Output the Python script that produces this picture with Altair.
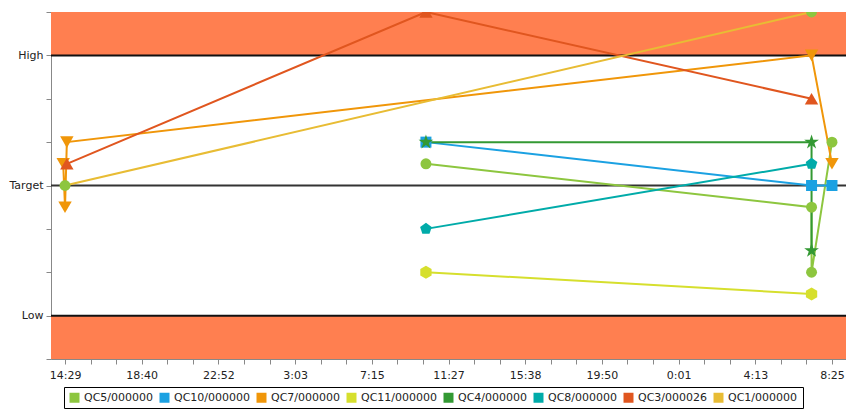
import json
import altair as alt
import pandas as pd

# ---------------- data ----------------
series = ["QC5/000000", "QC10/000000", "QC7/000000", "QC11/000000",
          "QC4/000000", "QC8/000000", "QC3/000026", "QC1/000000"]
line_colors = ["#8DC63F", "#1BA1E2", "#F09609", "#D6DF2D",
               "#339933", "#00ABA9", "#E0561F", "#E8BC34"]
marker_colors = ["#8DC63F", "#1BA1E2", "#F09609", "#D6DF2D",
                 "#339933", "#00ABA9", "#E0561F", "#8DC63F"]

# time in minutes after 14:29 of day 1, value in chart units (Target = 0)
qc5_t = [1184, 2449, 2449, 2516]
qc5_v = [0.5, -0.5, -2.0, 1.0]
qc10_t = [1184, 2449, 2516]
qc10_v = [1.0, 0.0, 0.0]
qc7_t = [-6, 0, 6, 2449, 2516]
qc7_v = [0.5, -0.5, 1.0, 3.0, 0.5]
qc11_t = [1184, 2449]
qc11_v = [-2.0, -2.5]
qc4_t = [1184, 2449, 2449]
qc4_v = [1.0, 1.0, -1.5]
qc8_t = [1184, 2449]
qc8_v = [-1.0, 0.5]
qc3_t = [6, 1184, 2449]
qc3_v = [0.5, 4.0, 2.0]
qc1_t = [0, 2449]
qc1_v = [0.0, 4.0]

all_t = [qc5_t, qc10_t, qc7_t, qc11_t, qc4_t, qc8_t, qc3_t, qc1_t]
all_v = [qc5_v, qc10_v, qc7_v, qc11_v, qc4_v, qc8_v, qc3_v, qc1_v]

tick_labels = ["14:29", "18:40", "22:52", "3:03", "7:15", "11:27",
               "15:38", "19:50", "0:01", "4:13", "8:25"]
span_minutes = 2516

limit_names = ["High", "Target", "Low"]
limit_values = [3, 0, -3]
limit_colors = ["#111111", "#333333", "#111111"]
band_lo = [3, -4]
band_hi = [4, -3]

# ---------------- shapes ----------------
star = ("M0,-1L0.2245,-0.309L0.951,-0.309L0.363,0.118L0.588,0.809L0,0.382"
        "L-0.588,0.809L-0.363,0.118L-0.951,-0.309L-0.2245,-0.309Z")
pentagon = "M0,-1L0.951,-0.309L0.588,0.809L-0.588,0.809L-0.951,-0.309Z"
hexagon = "M0,-1L0.866,-0.5L0.866,0.5L0,1L-0.866,0.5L-0.866,-0.5Z"
shapes = ["circle", "square", "triangle-down", hexagon,
          star, pentagon, "triangle-up", "circle"]
sizes = [120, 121, 180, 170, 240, 150, 180, 120]

rows = []
for i, s in enumerate(series):
    for k, (t, v) in enumerate(zip(all_t[i], all_v[i])):
        rows.append({"series": s, "t": t, "v": v, "seq": k,
                     "mcolor": marker_colors[i]})
df = pd.DataFrame(rows)

bands = pd.DataFrame({"lo": band_lo, "hi": band_hi})
limits = pd.DataFrame({"name": limit_names, "v": limit_values, "c": limit_colors})

FONT = "DejaVu Sans"
minor = span_minutes / 30
x_values = [i * minor for i in range(31)]
x_label_expr = (f"round(datum.value/{minor}) % 3 == 0 ? "
                f"{json.dumps(tick_labels)}[round(datum.value/{span_minutes/10})] : ''")
y_label_expr = ("datum.value == 3 ? 'High' : datum.value == 0 ? 'Target' : "
                "datum.value == -3 ? 'Low' : ''")

xscale = alt.Scale(domain=[-46, 2562], nice=False, zero=False)
yscale = alt.Scale(domain=[-4, 4], nice=False, zero=False)

x_axis = alt.Axis(values=x_values, labelExpr=x_label_expr, title=None, grid=False,
                  domainColor="#888888", tickColor="#888888", tickSize=5,
                  labelFont=FONT, labelFontSize=11, labelColor="#222222",
                  labelPadding=5, labelFlush=False, labelOverlap=False)
y_axis = alt.Axis(values=list(range(-4, 5)), labelExpr=y_label_expr, title=None,
                  grid=False, domainColor="#888888", tickColor="#888888",
                  tickSize=5, labelFont=FONT, labelFontSize=11,
                  labelColor="#222222", labelPadding=3, labelOverlap=False)

X = alt.X("t:Q", scale=xscale, axis=x_axis)
Y = alt.Y("v:Q", scale=yscale, axis=y_axis)

band_layer = alt.Chart(bands).mark_rect(color="#FF7F50").encode(
    y=alt.Y("lo:Q", scale=yscale, axis=y_axis),
    y2="hi:Q",
)

rule_layer = alt.Chart(limits).mark_rule(strokeWidth=2).encode(
    y=alt.Y("v:Q", scale=yscale, axis=y_axis),
    color=alt.Color("c:N", scale=None),
)

line_layer = alt.Chart(df).mark_line(strokeWidth=2, clip=True).encode(
    x=X, y=Y,
    stroke=alt.Stroke("series:N",
                      scale=alt.Scale(domain=series, range=line_colors),
                      legend=None),
    order="seq:Q",
)

# invisible layer that only carries the square-symbol legend
legend_layer = alt.Chart(df).mark_point(shape="square", filled=True, size=0,
                                        clip=True).encode(
    x=X, y=Y,
    color=alt.Color("series:N",
                    scale=alt.Scale(domain=series, range=line_colors),
                    sort=series,
                    legend=alt.Legend(title=None, orient="none", legendX=13,
                                      legendY=375, direction="horizontal",
                                      columns=8, symbolType="square",
                                      symbolSize=100, symbolStrokeWidth=0,
                                      symbolOpacity=1,
                                      labelFont=FONT, labelFontSize=11,
                                      labelColor="#222222", labelOffset=4,
                                      columnPadding=5, padding=5,
                                      strokeColor="black", fillColor="white")),
)

point_layers = []
for i, s in enumerate(series):
    point_layers.append(
        alt.Chart(df[df["series"] == s]).mark_point(
            filled=True, opacity=1, clip=True, shape=shapes[i], size=sizes[i]
        ).encode(x=X, y=Y, fill=alt.Fill("mcolor:N", scale=None))
    )

chart = alt.layer(band_layer, rule_layer, line_layer, legend_layer,
                  *point_layers).properties(
    width=795, height=347,
    autosize=alt.AutoSizeParams(type="none"),
    padding={"left": 43, "top": 4, "right": 0, "bottom": 56},
).configure_view(stroke=None).configure(background="white")

chart.save("out.html", embed_options={"renderer": "svg", "actions": False})
